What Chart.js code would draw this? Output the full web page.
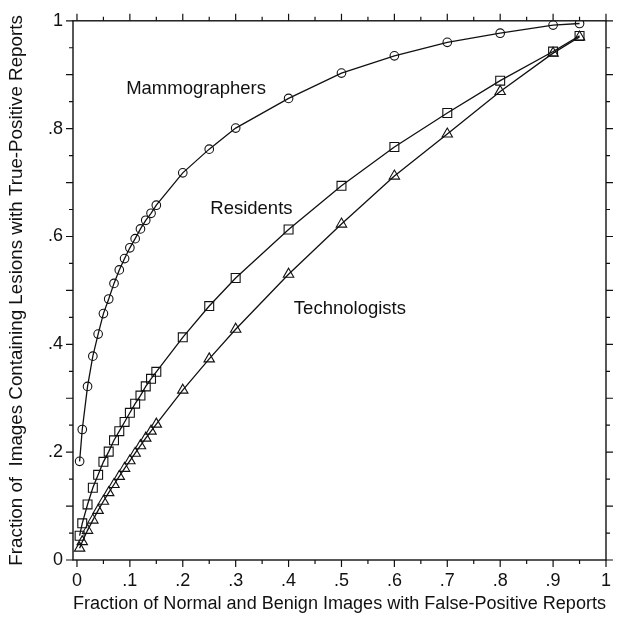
<!DOCTYPE html>
<html>
<head>
<meta charset="utf-8">
<script src="https://cdn.jsdelivr.net/npm/chart.js@4.4.1/dist/chart.umd.min.js"></script>
<style>
  html, body { margin: 0; padding: 0; background: #fff; }
  #wrap { width: 621px; height: 621px; }
</style>
</head>
<body>
<div id="wrap"><canvas id="rocChart"></canvas></div>
<script>
// false-positive fraction at each operating point (shared by all three groups)
const falsePositive = [0.005, 0.01, 0.02, 0.03, 0.04, 0.05, 0.06, 0.07, 0.08, 0.09,
    0.10, 0.11, 0.12, 0.13, 0.14, 0.15, 0.2, 0.25, 0.3, 0.4, 0.5, 0.6, 0.7, 0.8, 0.9, 0.95];

// true-positive fraction per reader group
const mammographers = [0.183, 0.242, 0.322, 0.378, 0.419, 0.457, 0.484, 0.513, 0.538, 0.559,
    0.579, 0.596, 0.614, 0.630, 0.643, 0.658, 0.718, 0.762, 0.801, 0.856, 0.903, 0.935, 0.960, 0.977, 0.992, 0.995];
const residents = [0.045, 0.068, 0.103, 0.134, 0.158, 0.182, 0.201, 0.222, 0.239, 0.256,
    0.273, 0.290, 0.305, 0.322, 0.336, 0.349, 0.413, 0.471, 0.523, 0.613, 0.694, 0.766, 0.829, 0.889, 0.943, 0.972];
const technologists = [0.022, 0.034, 0.055, 0.074, 0.092, 0.109, 0.125, 0.140, 0.155, 0.170,
    0.184, 0.198, 0.212, 0.226, 0.239, 0.252, 0.315, 0.373, 0.428, 0.530, 0.623, 0.712, 0.790, 0.869, 0.940, 0.970];

const groupNames = ["Mammographers", "Residents", "Technologists"];
// where each group name sits, in data units (left edge, vertical middle)
const nameX = [0.093, 0.252, 0.410];
const nameY = [0.874, 0.652, 0.466];

const xTicks = [0, 0.1, 0.2, 0.3, 0.4, 0.5, 0.6, 0.7, 0.8, 0.9, 1];
const yTicks = [0, 0.2, 0.4, 0.6, 0.8, 1];

const ink = "#111";
const fontFamily = "'Liberation Sans', Arial, Helvetica, sans-serif";

function toPoints(ys) {
    return falsePositive.map((x, i) => ({ x: x, y: ys[i] }));
}

function fmt(v) {
    if (v === 0) return "0";
    if (Math.abs(v - 1) < 1e-9) return "1";
    return "." + Math.round(v * 10);
}

function series(ys, style, radius) {
    return {
        data: toPoints(ys),
        showLine: true,
        borderColor: ink,
        borderWidth: 1.3,
        tension: 0,
        pointStyle: style,
        pointRadius: radius,
        pointBorderWidth: 1.1,
        pointBorderColor: ink,
        pointBackgroundColor: "rgba(0,0,0,0)"
    };
}

// box around the plot with outward tick marks on all four sides
const frameTicks = {
    id: "frameTicks",
    afterDraw(chart) {
        const ctx = chart.ctx;
        const { left, right, top, bottom } = chart.chartArea;
        const xs = chart.scales.x;
        const ys = chart.scales.y;
        ctx.save();
        ctx.strokeStyle = ink;
        ctx.lineWidth = 1.4;
        ctx.strokeRect(left, top, right - left, bottom - top);
        ctx.lineWidth = 1.2;
        ctx.beginPath();
        for (let i = 0; i <= 20; i++) {
            const v = i / 20;
            const len = i % 2 === 0 ? 7 : 4;
            const px = xs.getPixelForValue(v);
            ctx.moveTo(px, bottom); ctx.lineTo(px, bottom + len);
            ctx.moveTo(px, top); ctx.lineTo(px, top - len);
            const py = ys.getPixelForValue(v);
            ctx.moveTo(left, py); ctx.lineTo(left - len, py);
            ctx.moveTo(right, py); ctx.lineTo(right + len, py);
        }
        ctx.stroke();

        ctx.fillStyle = ink;
        ctx.font = "18.5px " + fontFamily;
        ctx.textAlign = "left";
        ctx.textBaseline = "middle";
        groupNames.forEach((name, i) => {
            ctx.fillText(name, xs.getPixelForValue(nameX[i]), ys.getPixelForValue(nameY[i]));
        });
        ctx.restore();
    }
};

const config = {
    type: "scatter",
    data: {
        datasets: [
            series(mammographers, "circle", 4.3),
            series(residents, "rect", 6.3),
            series(technologists, "triangle", 6)
        ]
    },
    options: {
        responsive: true,
        maintainAspectRatio: false,
        animation: false,
        layout: { padding: { left: 0, top: 19, right: 5, bottom: 0 } },
        plugins: {
            legend: { display: false },
            tooltip: { enabled: false }
        },
        scales: {
            x: {
                type: "linear",
                min: -0.0075,
                max: 1,
                afterBuildTicks: scale => { scale.ticks = xTicks.map(v => ({ value: v })); },
                afterFit: scale => { scale.height = 61; },
                grid: { display: false, drawTicks: false },
                border: { display: false },
                ticks: {
                    padding: 10,
                    color: ink,
                    font: { family: fontFamily, size: 18 },
                    maxRotation: 0,
                    autoSkip: false,
                    callback: v => fmt(v)
                },
                title: {
                    display: true,
                    text: "Fraction of Normal and Benign Images with False-Positive Reports",
                    color: ink,
                    font: { family: fontFamily, size: 19.2 },
                    padding: { top: 0, bottom: 6 }
                }
            },
            y: {
                type: "linear",
                min: 0,
                max: 1,
                afterBuildTicks: scale => { scale.ticks = yTicks.map(v => ({ value: v })); },
                afterFit: scale => { scale.width = 73; },
                grid: { display: false, drawTicks: false },
                border: { display: false },
                ticks: {
                    padding: 10,
                    color: ink,
                    font: { family: fontFamily, size: 18 },
                    autoSkip: false,
                    callback: v => fmt(v)
                },
                title: {
                    display: true,
                    text: "Fraction of  Images Containing Lesions with True-Positive Reports",
                    color: ink,
                    font: { family: fontFamily, size: 18.8 },
                    padding: { top: 6, bottom: 0 }
                }
            }
        }
    },
    plugins: [frameTicks]
};

new Chart(document.getElementById("rocChart").getContext("2d"), config);
</script>
</body>
</html>
